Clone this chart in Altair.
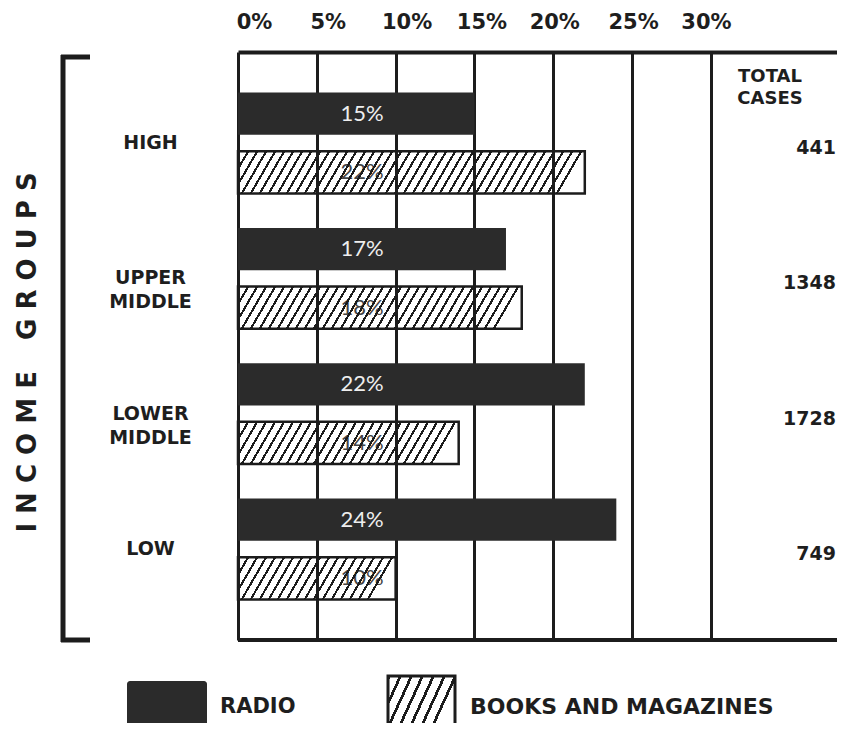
import altair as alt
import pandas as pd

# ---------------- data ----------------
groups = ["HIGH", "UPPER MIDDLE", "LOWER MIDDLE", "LOW"]
series = ["RADIO", "BOOKS AND MAGAZINES"]
radio = [15, 17, 22, 24]
books = [22, 18, 14, 10]
totals = [441, 1348, 1728, 749]
tick_values = [0, 5, 10, 15, 20, 25, 30]
header_text = "TOTAL\nCASES"
axis_title = " ".join("INCOME") + " \u2002 " + " ".join("GROUPS")

# ---------------- layout / style ----------------
W, H = 599, 588
XMAX = 38.0
PX = W / XMAX
FONT = "Lato"
HEAVY = "DejaVu Sans"
INK = "#1c1c1c"
DARK = "#2b2b2b"
TXT = "#1e1e1e"

P_IN, P_OUT, P_SUB = 0.254, 0.3, 0.28
step = H / (len(groups) - P_IN + 2 * P_OUT)
bw = step * (1 - P_IN)
sub_step = bw / (2 - P_SUB)
BAR_H = sub_step * (1 - P_SUB)


def hatch(w_px, h_px, s=9.0, d=2.4, k=0.58, col=INK):
    r = k * h_px / w_px
    per = s / (w_px * (1 + r * r))
    dk = d / (w_px * (1 + r * r))
    clear = "rgba(255,255,255,0)"
    stops = []
    t = 0.0
    while t < 1.0:
        a = min(t + dk, 1.0)
        b = min(t + per, 1.0)
        stops += [
            {"offset": round(t, 5), "color": col},
            {"offset": round(a, 5), "color": col},
            {"offset": round(a, 5), "color": clear},
            {"offset": round(b, 5), "color": clear},
        ]
        t += per
    return {"gradient": "linear", "x1": 0, "y1": 0, "x2": 1, "y2": r, "stops": stops}


df = pd.DataFrame({
    "group": groups * 2,
    "series": [series[0]] * len(groups) + [series[1]] * len(groups),
    "value": radio + books,
})
df["label"] = df["value"].astype(str) + "%"
df_tot = pd.DataFrame({"group": groups, "total": [str(t) for t in totals]})
one = pd.DataFrame({"k": [0]})

x_axis = alt.Axis(
    orient="top", values=tick_values, labelExpr="datum.value + '%'", title=None,
    grid=True, gridColor=INK, gridWidth=3, gridOpacity=1,
    domain=True, domainColor=INK, domainWidth=4,
    ticks=False, tickSize=0, labelPadding=20, labelFlush=False, labelOverlap=False,
    labelFont=HEAVY, labelFontSize=21, labelFontWeight="bold", labelColor=TXT,
    labelOffset={"condition": [
        {"test": "datum.value < 2.5", "value": 16},
        {"test": "datum.value < 12.5", "value": 11},
        {"test": "datum.value < 17.5", "value": 7},
        {"test": "datum.value > 27.5", "value": -5},
    ], "value": 1},
)
X = alt.X("value:Q", scale=alt.Scale(domain=[0, XMAX], nice=False, zero=True), axis=x_axis)

y_axis = alt.Axis(
    orient="left", title=axis_title, titleAngle=270, titleX=-211, titleY=300,
    titleAlign="center", titleBaseline="middle", titleFont=HEAVY, titleFontSize=26,
    titleFontWeight="bold", titleColor=TXT,
    domain=False, ticks=False, grid=False,
    labelExpr="split(datum.label, ' ')", labelAlign="center", labelBaseline="middle",
    labelPadding=88, labelFont=HEAVY, labelFontSize=19, labelFontWeight="bold",
    labelColor=TXT, labelLineHeight=24,
)
Y = alt.Y("group:N", sort=groups,
          scale=alt.Scale(domain=groups, paddingInner=P_IN, paddingOuter=P_OUT), axis=y_axis)
YO = alt.YOffset("series:N", sort=series,
                 scale=alt.Scale(domain=series, paddingInner=P_SUB, paddingOuter=0))

base = alt.Chart(df)
is_radio = alt.datum.series == series[0]
is_books = alt.datum.series == series[1]

layers = []

# bottom frame line
layers.append(alt.Chart(one).mark_rule(color=INK, strokeWidth=4).encode(
    x=alt.value(0), x2=alt.value(W), y=alt.value(H)))

# book labels (drawn beneath the hatching)
layers.append(base.transform_filter(is_books).mark_text(
    font=FONT, fontSize=22, color="#444444", baseline="middle").encode(
    x=alt.value(124), y=Y, yOffset=YO, text="label:N"))

# radio bars
layers.append(base.transform_filter(is_radio).mark_bar(color=DARK).encode(
    x=X, y=Y, yOffset=YO))

# hatched book bars
for g, v in zip(groups, books):
    layers.append(base.transform_filter(is_books & (alt.datum.group == g)).mark_bar(
        fill=hatch(v * PX, BAR_H), stroke=INK, strokeWidth=2.5).encode(
        x=X, y=Y, yOffset=YO))

# radio labels
layers.append(base.transform_filter(is_radio).mark_text(
    font=FONT, fontSize=22, color="#eeeeee", baseline="middle").encode(
    x=alt.value(124), y=Y, yOffset=YO, text="label:N"))

# totals column
layers.append(alt.Chart(df_tot).mark_text(
    font=HEAVY, fontSize=19, fontWeight="bold", color=TXT, align="right",
    baseline="middle", dy=5).encode(x=alt.value(W - 1), y=Y, text="total:N"))
layers.append(alt.Chart(pd.DataFrame({"h": [header_text]})).mark_text(
    font=HEAVY, fontSize=18, fontWeight="bold", color=TXT, align="center",
    baseline="middle", lineBreak="\n", lineHeight=22).encode(
    x=alt.value(532), y=alt.value(25), text="h:N"))

# bracket
layers.append(alt.Chart(one).mark_rule(color=INK, strokeWidth=5).encode(
    x=alt.value(-175), y=alt.value(3), y2=alt.value(590)))
layers.append(alt.Chart(one).mark_rule(color=INK, strokeWidth=5).encode(
    x=alt.value(-177), x2=alt.value(-148), y=alt.value(5)))
layers.append(alt.Chart(one).mark_rule(color=INK, strokeWidth=5).encode(
    x=alt.value(-177), x2=alt.value(-148), y=alt.value(588)))

# legend
layers.append(alt.Chart(one).mark_rect(color=DARK, cornerRadius=3).encode(
    x=alt.value(-111), x2=alt.value(-31), y=alt.value(629), y2=alt.value(690)))
layers.append(alt.Chart(one).mark_rect(
    fill=hatch(67, 53, s=11, d=3, k=0.45), stroke=INK, strokeWidth=3).encode(
    x=alt.value(150), x2=alt.value(217), y=alt.value(624), y2=alt.value(676)))
layers.append(alt.Chart(one).mark_text(
    font=HEAVY, fontSize=21, fontWeight="bold", color=TXT, align="left",
    baseline="middle").encode(x=alt.value(-18), y=alt.value(655), text=alt.value(series[0])))
layers.append(alt.Chart(one).mark_text(
    font=HEAVY, fontSize=22, fontWeight="bold", color=TXT, align="left",
    baseline="middle").encode(x=alt.value(232), y=alt.value(655), text=alt.value(series[1])))

chart = alt.layer(*layers).properties(
    width=W, height=H,
    autosize=alt.AutoSizeParams(type="none"),
    padding={"left": 230, "top": 44, "right": 0, "bottom": 83},
    background="white",
).configure_view(stroke=None)

chart.save("out.html", embed_options={"renderer": "svg", "actions": False})
